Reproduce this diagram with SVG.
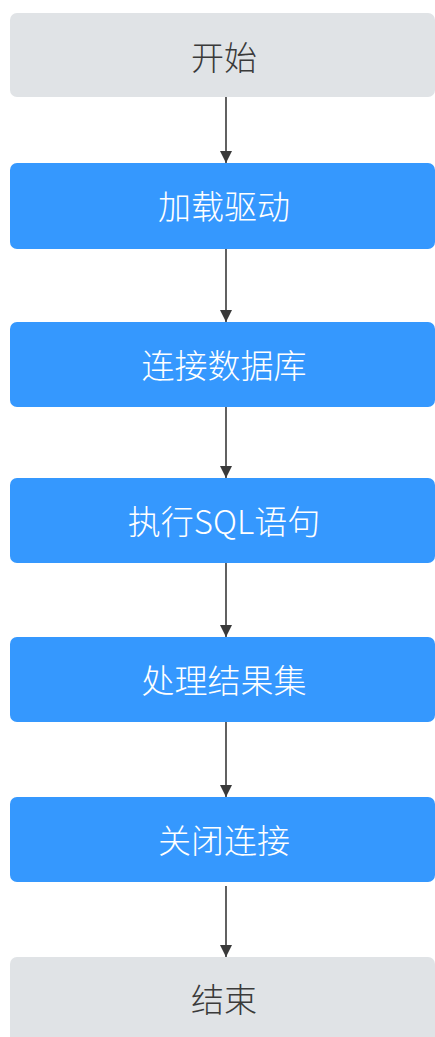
<svg xmlns="http://www.w3.org/2000/svg" width="435" height="1037" viewBox="0 0 435 1037">
<style>
.term{fill:#e0e3e6;}
.proc{fill:#3598fe;}
.lbl{font-family:"Noto Sans CJK SC","Noto Sans",sans-serif;font-size:33px;font-weight:300;text-anchor:middle;dominant-baseline:central;}
.dark{fill:#3a3a3a;}
.light{fill:#ffffff;}
.conn{stroke:#3a3a3a;stroke-width:1.6;fill:none;marker-end:url(#arr);}
</style>
<defs>
<marker id="arr" markerWidth="12" markerHeight="18" viewBox="0 0 12 18" refX="12" refY="9" orient="auto" markerUnits="userSpaceOnUse">
<path d="M0,3 L12,9 L0,15 Z" fill="#3a3a3a"/>
</marker>
</defs>
<rect width="435" height="1037" fill="#ffffff"/>
<g id="connectors">
<line class="conn" x1="226" y1="97" x2="226" y2="163"/>
<line class="conn" x1="226" y1="249" x2="226" y2="322"/>
<line class="conn" x1="226" y1="407" x2="226" y2="478"/>
<line class="conn" x1="226" y1="563" x2="226" y2="637"/>
<line class="conn" x1="226" y1="722" x2="226" y2="797"/>
<line class="conn" x1="226" y1="886" x2="226" y2="957"/>
</g>
<g id="start">
<rect class="term" x="10" y="13" width="425" height="84" rx="7"/>
<text class="lbl dark" x="224" y="56">开始</text>
</g>
<g id="load-driver">
<rect class="proc" x="10" y="163" width="425" height="86" rx="7"/>
<text class="lbl light" x="224" y="205">加载驱动</text>
</g>
<g id="connect-db">
<rect class="proc" x="10" y="322" width="425" height="85" rx="7"/>
<text class="lbl light" x="224" y="364">连接数据库</text>
</g>
<g id="exec-sql">
<rect class="proc" x="10" y="478" width="425" height="85" rx="7"/>
<text class="lbl light" x="224" y="520">执行SQL语句</text>
</g>
<g id="process-result">
<rect class="proc" x="10" y="637" width="425" height="85" rx="7"/>
<text class="lbl light" x="224" y="679">处理结果集</text>
</g>
<g id="close-conn">
<rect class="proc" x="10" y="797" width="425" height="85" rx="7"/>
<text class="lbl light" x="224" y="839">关闭连接</text>
</g>
<g id="end">
<rect class="term" x="10" y="957" width="425" height="90" rx="7"/>
<text class="lbl dark" x="224" y="998">结束</text>
</g>
</svg>
